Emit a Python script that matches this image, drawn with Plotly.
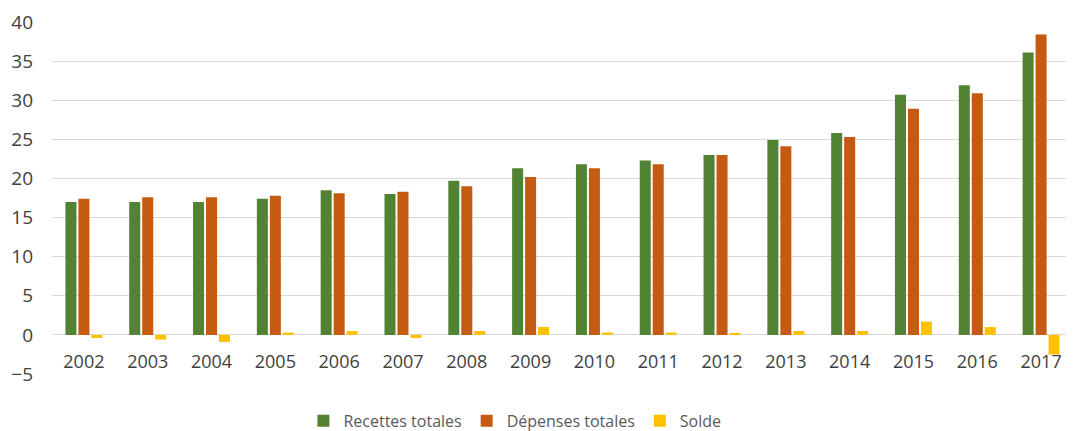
import plotly.graph_objects as go

YEARS = [str(y) for y in range(2002, 2018)]
RECETTES = [17.0, 17.0, 17.0, 17.4, 18.5, 18.0, 19.7, 21.3, 21.8, 22.3, 23.0, 24.9, 25.8, 30.7, 31.9, 36.1]
DEPENSES = [17.4, 17.6, 17.6, 17.8, 18.1, 18.3, 19.0, 20.2, 21.3, 21.8, 23.0, 24.1, 25.3, 28.9, 30.9, 38.4]
SOLDE = [-0.4, -0.6, -0.9, 0.3, 0.5, -0.4, 0.5, 1.0, 0.3, 0.3, 0.25, 0.5, 0.5, 1.7, 1.0, -2.5]

SERIES = [
    ("Recettes totales", RECETTES, "#548235"),
    ("Dépenses totales", DEPENSES, "#C55A11"),
    ("Solde", SOLDE, "#FFC000"),
]

Y_MIN, Y_MAX = -5, 40
TICK_COLOR = "#404040"
LEGEND_COLOR = "#595959"
FONT = "Open Sans"

fig = go.Figure()
for name, values, color in SERIES:
    fig.add_trace(
        go.Bar(
            x=YEARS,
            y=values,
            name=name,
            marker=dict(color=color, line=dict(width=0)),
        )
    )

# x tick labels sit just under the zero line, as in the original
zero_pos = (0 - Y_MIN) / (Y_MAX - Y_MIN)

# margins account for the 8px default body margin of the page
fig.update_layout(
    width=1074,
    height=431,
    margin=dict(l=44, r=9, t=14, b=65, autoexpand=False),
    paper_bgcolor="white",
    plot_bgcolor="white",
    barmode="group",
    bargap=0.39,
    bargroupgap=0.15,
    font=dict(family=FONT, color=TICK_COLOR),
    xaxis=dict(
        type="category",
        anchor="free",
        position=zero_pos,
        automargin=False,
        showgrid=False,
        showline=False,
        ticks="",
        tickfont=dict(size=18, color=TICK_COLOR),
        ticklabelstandoff=14,
    ),
    yaxis=dict(
        range=[Y_MIN, Y_MAX],
        dtick=5,
        automargin=False,
        showgrid=True,
        gridcolor="#D9D9D9",
        gridwidth=1,
        zeroline=False,
        showline=False,
        ticks="",
        tickfont=dict(size=19, color=TICK_COLOR),
        ticklabelstandoff=18,
    ),
    legend=dict(
        orientation="h",
        xref="container",
        yref="container",
        x=0.472,
        xanchor="center",
        y=0.042,
        yanchor="middle",
        font=dict(size=16, color=LEGEND_COLOR),
        itemwidth=30,
        traceorder="normal",
    ),
)

fig.write_html("out.html")
